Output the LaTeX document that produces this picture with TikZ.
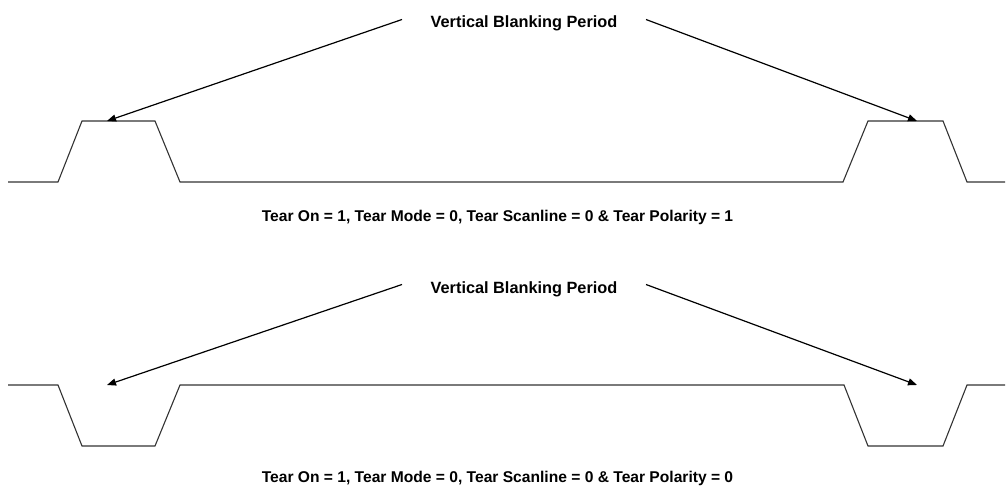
\documentclass[tikz,border=0pt]{standalone}
\usepackage{fontspec}
\setmainfont{Liberation Sans}
\usetikzlibrary{arrows.meta}
\tikzset{
  wave/.style={draw=black!80,line width=1.1pt,line join=miter},
  pointer/.style={draw=black,line width=1.2pt,-{Triangle[length=9pt,width=7pt]}},
  vbp/.style={font=\fontsize{16.3}{18}\selectfont\bfseries,anchor=base,
    inner xsep=28.5pt,inner ysep=0pt,text height=17pt,text depth=0pt},
  caption/.style={font=\fontsize{15.6}{18}\selectfont\bfseries,anchor=base}
}
\begin{document}
\begin{tikzpicture}[x=1pt,y=-1pt]
      \useasboundingbox (0,0) rectangle (1006,489);
      % polarity = 1
      \draw[wave] (8,182)--(58,182)--(82,121)--(155,121)--(180,182)
        --(843,182)--(868,121)--(943,121)--(967,182)--(1005,182);
      \node[vbp] (vbpA) at (524,28) {Vertical Blanking Period};
      \coordinate (tipAl) at (107,121);
      \coordinate (tipAr) at (917,121);
      \draw[pointer] (vbpA.west)--(tipAl);
      \draw[pointer] (vbpA.east)--(tipAr);
      \node[caption] (capA) at (497.5,221)
        {Tear On = 1, Tear Mode = 0, Tear Scanline = 0 \& Tear Polarity = 1};
      % polarity = 0
      \draw[wave] (8,385)--(58,385)--(82,446)--(155,446)--(180,385)
        --(844,385)--(868,446)--(943,446)--(967,385)--(1005,385);
      \node[vbp] (vbpB) at (524,293) {Vertical Blanking Period};
      \coordinate (tipBl) at (107,385);
      \coordinate (tipBr) at (917,385);
      \draw[pointer] (vbpB.west)--(tipBl);
      \draw[pointer] (vbpB.east)--(tipBr);
      \node[caption] (capB) at (497.5,482)
        {Tear On = 1, Tear Mode = 0, Tear Scanline = 0 \& Tear Polarity = 0};
    \end{tikzpicture}
\end{document}
